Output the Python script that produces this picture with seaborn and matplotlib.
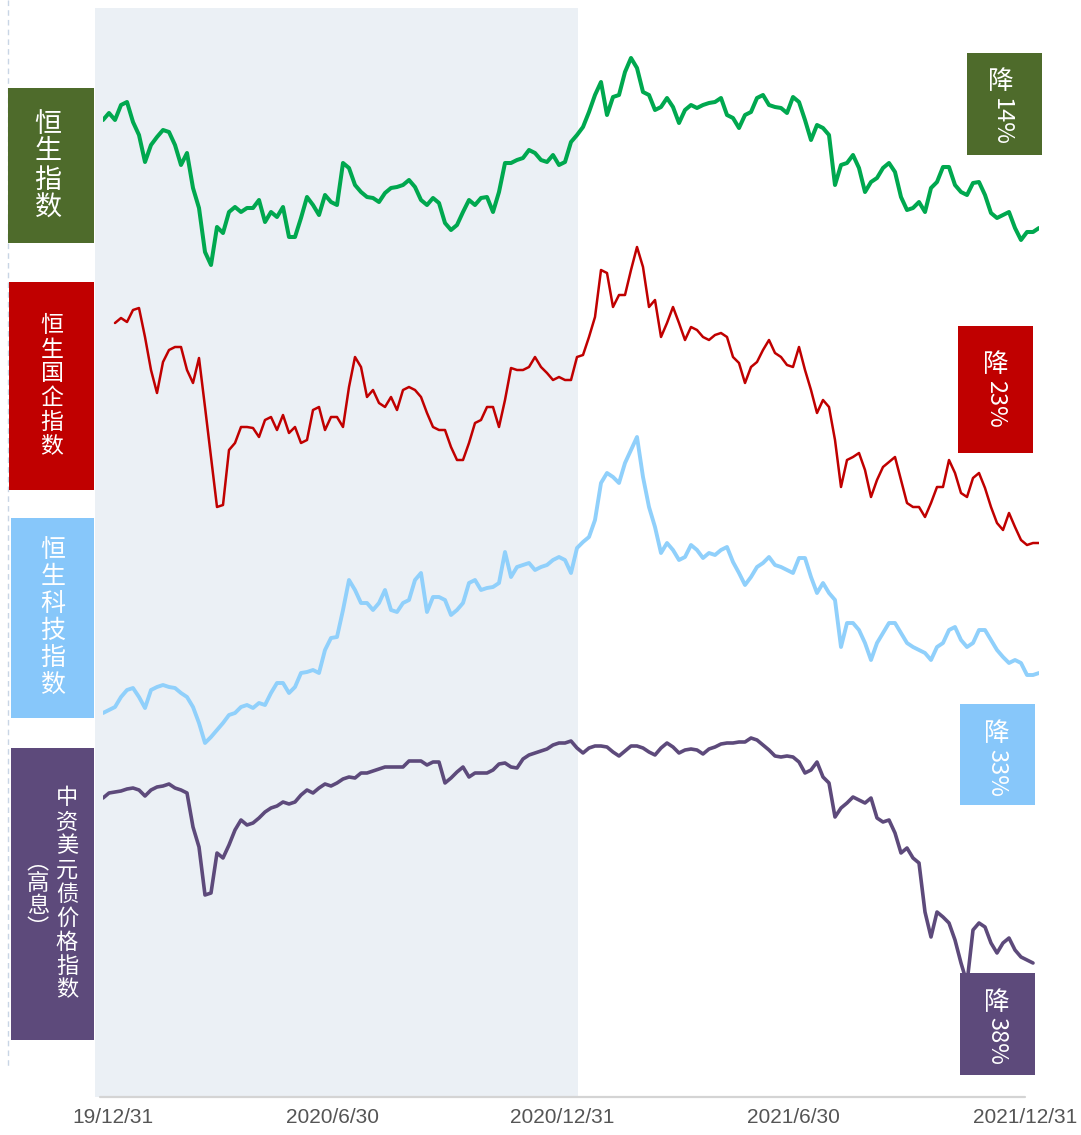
import numpy as np
import pandas as pd
import matplotlib.pyplot as plt
from matplotlib.patches import Rectangle
from matplotlib.lines import Line2D
from matplotlib.transforms import ScaledTranslation
import seaborn as sns

nan = np.nan

# ---- data (about every 4-5 days, 2019-12-31 .. 2021-12-31) ----
hsi = [28000, 28350, 28000, 28750, 28900, 27900, 27250, 25900, 26750, 27150,
       27500, 27400, 26750, 25750, 26350, 24600, 23600, 21400, 20750, 22650,
       22350, 23400, 23650, 23400, 23600, 23600, 24000, 22900, 23400, 23150,
       23650, 22150, 22150, 23100, 24150, 23750, 23250, 24250, 23900, 23750,
       25850, 25600, 24750, 24400, 24150, 24100, 23900, 24350, 24600, 24650,
       24750, 25000, 24650, 24000, 23750, 24100, 23850, 22850, 22500, 22750,
       23400, 24000, 23750, 24100, 24150, 23400, 24400, 25850, 25850, 26000,
       26100, 26500, 26350, 26000, 25900, 26250, 25750, 25900, 26900, 27250,
       27650, 28400, 29250, 29900, 28250, 29150, 29250, 30400, 31100, 30600,
       29400, 29250, 28500, 28650, 29100, 28650, 27850, 28500, 28750, 28600,
       28750, 28850, 28900, 29100, 28250, 28100, 27600, 28250, 28400, 29100,
       29250, 28750, 28650, 28600, 28350, 29150, 28900, 28000, 27000, 27750,
       27600, 27250, 24750, 25750, 25850, 26250, 25600, 24400, 24900, 25100,
       25600, 25850, 25400, 24150, 23500, 23600, 23900, 23400, 24600, 24900,
       25650, 25650, 24750, 24400, 24250, 24850, 24900, 24250, 23350, 23100,
       23250, 23400, 22600, 22000, 22400, 22400, 22600]

hscei = [nan, nan, 11155, 11230, 11170, 11350, 11380, 10945, 10450, 10105,
         10570, 10750, 10795, 10795, 10450, 10255, 10630, 9895, 9145, 8395,
         8425, 9250, 9355, 9595, 9595, 9580, 9445, 9700, 9745, 9550,
         9775, 9505, 9595, 9355, 9400, 9850, 9895, 9550, 9745, 9745,
         9595, 10195, 10645, 10495, 10045, 10150, 9955, 9895, 10045, 9850,
         10150, 10195, 10150, 10045, 9805, 9595, 9550, 9550, 9295, 9100,
         9100, 9355, 9655, 9700, 9895, 9895, 9595, 10000, 10480, 10450,
         10450, 10495, 10645, 10495, 10405, 10300, 10345, 10300, 10300, 10645,
         10675, 10945, 11245, 11950, 11905, 11395, 11575, 11575, 11950, 12295,
         11995, 11395, 11500, 10945, 11155, 11395, 11155, 10900, 11095, 11050,
         10945, 10900, 10975, 11005, 10945, 10645, 10555, 10255, 10495, 10570,
         10750, 10900, 10705, 10645, 10525, 10495, 10795, 10450, 10150, 9805,
         10000, 9895, 9400, 8695, 9100, 9145, 9205, 8950, 8545, 8800,
         8995, 9070, 9145, 8800, 8455, 8395, 8395, 8245, 8455, 8695,
         8695, 9100, 8905, 8605, 8545, 8830, 8905, 8680, 8395, 8155,
         8050, 8305, 8095, 7900, 7825, 7855, 7855]

hstech = [5740, 5800, 5860, 6060, 6200, 6240, 6060, 5840, 6200, 6260,
          6300, 6260, 6240, 6140, 6060, 5860, 5540, 5140, 5260, 5400,
          5540, 5700, 5740, 5860, 5900, 5840, 5940, 5900, 6140, 6340,
          6340, 6140, 6260, 6540, 6560, 6600, 6540, 7000, 7240, 7260,
          7800, 8400, 8200, 7940, 7940, 7800, 7940, 8200, 7800, 7760,
          7940, 8000, 8400, 8540, 7760, 8060, 8060, 8000, 7700, 7800,
          7940, 8340, 8400, 8200, 8240, 8260, 8340, 8960, 8460, 8660,
          8700, 8740, 8600, 8660, 8700, 8800, 8860, 8800, 8540, 9040,
          9160, 9260, 9600, 10340, 10540, 10460, 10340, 10740, 11000, 11260,
          10460, 9860, 9460, 8940, 9140, 9000, 8800, 8860, 9100, 9000,
          8840, 8940, 8900, 9000, 9060, 8760, 8540, 8300, 8460, 8660,
          8740, 8860, 8700, 8660, 8600, 8540, 8840, 8840, 8460, 8140,
          8340, 8140, 8000, 7060, 7540, 7540, 7400, 7140, 6800, 7140,
          7340, 7540, 7540, 7340, 7140, 7060, 7000, 6940, 6800, 7060,
          7140, 7400, 7460, 7200, 7060, 7140, 7400, 7400, 7200, 7000,
          6860, 6740, 6800, 6740, 6500, 6500, 6540]

bond = [90.4, 91.4, 91.6, 91.8, 92.2, 92.4, 92.0, 90.8, 92.0, 92.6,
        92.8, 93.2, 92.4, 92.0, 91.4, 84.6, 80.6, 71.0, 71.4, 79.4,
        78.4, 81.0, 84.0, 86.0, 85.0, 85.4, 86.4, 87.6, 88.4, 88.8,
        89.6, 89.2, 89.6, 91.0, 92.0, 91.4, 92.4, 93.2, 92.8, 93.4,
        94.2, 94.6, 94.4, 95.4, 95.4, 95.8, 96.2, 96.6, 96.6, 96.6,
        96.6, 97.8, 97.8, 97.8, 97.0, 97.6, 97.6, 93.4, 94.4, 95.6,
        96.6, 94.6, 95.4, 95.4, 95.4, 96.0, 97.2, 97.4, 96.6, 96.4,
        98.2, 99.0, 99.4, 99.8, 100.2, 101.0, 101.4, 101.4, 101.8, 100.4,
        99.4, 100.4, 100.8, 100.8, 100.6, 99.6, 98.8, 99.8, 100.8, 100.8,
        100.4, 99.6, 99.0, 100.4, 101.4, 100.6, 99.4, 100.0, 100.2, 100.0,
        99.2, 100.2, 100.6, 101.2, 101.4, 101.4, 101.6, 101.6, 102.4, 102.0,
        101.0, 100.0, 98.8, 98.6, 98.8, 98.6, 97.6, 95.4, 96.0, 97.6,
        94.6, 93.4, 86.6, 88.4, 89.4, 90.6, 90.0, 89.4, 90.4, 86.4,
        85.6, 86.0, 83.4, 79.4, 80.4, 78.4, 77.4, 67.6, 62.6, 67.6,
        66.6, 65.4, 62.0, 57.4, 53.4, 64.0, 65.4, 64.6, 61.4, 59.4,
        61.4, 62.4, 60.0, 58.6, 58.0, 57.4, nan]

assert len(hsi) == len(hscei) == len(hstech) == len(bond)
dates = pd.date_range("2019-12-31", "2021-12-31", periods=len(hsi))

left_labels = ["恒生指数", "恒生国企指数", "恒生科技指数", "中资美元债价格指数"]
bond_note = "︵高息︶"
drops = ["14%", "23%", "33%", "38%"]
tick_dates = ["2019-12-31", "2020-06-30", "2020-12-31", "2021-06-30", "2021-12-31"]
tick_labels = ["19/12/31", "2020/6/30", "2020/12/31", "2021/6/30", "2021/12/31"]
shade_end = "2021-01-05"

green, red, blue, purple = "#00a84f", "#c00000", "#90d0fb", "#5d4a7b"
box_colors = ["#4e6b2b", "#c00000", "#87c7fa", "#5d4a7b"]

# ---- figure ----
W, H = 1081, 1135
sns.set_theme(style="white")
plt.rcParams["font.family"] = ["Noto Sans CJK SC", "DejaVu Sans"]
fig = plt.figure(figsize=(W / 100, H / 100), dpi=100)


def fx(x):
    return x / W


def fy(y):
    return 1 - y / H


x0, x1 = 103, 1039
ppd = (x1 - x0) / (dates[-1] - dates[0]).days
left_ts = dates[0] - pd.Timedelta(days=(x0 - 95) / ppd)

# background: shaded 2020 + x axis
bg = fig.add_axes([fx(95), fy(1097), fx(x1) - fx(95), (1097 - 8) / H])
bg.axvspan(left_ts, pd.Timestamp(shade_end), color="#ebf0f5", lw=0)
bg.set_xlim(left_ts, dates[-1])
bg.set_ylim(0, 1)
bg.axhline(0, xmin=5 / 944, xmax=930 / 944, color="#d4d4d4", lw=1.6, clip_on=False)
for s in bg.spines.values():
    s.set_visible(False)
bg.set_yticks([])
bg.set_xticks([pd.Timestamp(d) for d in tick_dates])
bg.set_xticklabels(tick_labels)
bg.tick_params(axis="x", length=0, pad=8)
offsets = [10, -4, -9, -10, -14]
for lab, dx in zip(bg.get_xticklabels(), offsets):
    lab.set_family(["Liberation Sans", "DejaVu Sans"])
    lab.set_fontsize(15)
    lab.set_color("#555555")
    lab.set_transform(lab.get_transform() + ScaledTranslation(dx / 100, 0, fig.dpi_scale_trans))

# series, each on its own transparent axes (top px, bottom px, y range)
panels = [
    (hsi, green, 2.9, 40, 280, 20000, 32000),
    (hscei, red, 1.8, 240, 560, 7600, 12400),
    (hstech, blue, 2.8, 420, 760, 4800, 11600),
    (bond, purple, 2.6, 720, 1000, 50, 106),
]
for vals, col, lw, top, bot, lo, hi in panels:
    ax = fig.add_axes([fx(x0), fy(bot), (x1 - x0) / W, (bot - top) / H])
    ax.patch.set_alpha(0)
    df = pd.DataFrame({"date": dates, "v": vals}).dropna()
    sns.lineplot(data=df, x="date", y="v", ax=ax, color=col, lw=lw, errorbar=None)
    ax.set_xlim(dates[0], dates[-1])
    ax.set_ylim(lo, hi)
    ax.axis("off")

# dashed guide on the far left
fig.add_artist(Line2D([fx(8), fx(8)], [fy(0), fy(1068)], transform=fig.transFigure,
                      color="#c8d5e5", lw=1, ls=(0, (4, 3))))


def box(x_a, y_a, x_b, y_b, color):
    fig.add_artist(Rectangle((fx(x_a), fy(y_b)), fx(x_b) - fx(x_a), (y_b - y_a) / H,
                             transform=fig.transFigure, color=color, lw=0, zorder=5))


def vtext(chars, xc, y_first, pitch, size):
    for k, ch in enumerate(chars):
        fig.text(fx(xc), fy(y_first + k * pitch), ch, color="white", fontsize=size,
                 ha="center", va="center", zorder=6)


# left labels
box(8, 88, 94, 243, box_colors[0])
vtext(left_labels[0], 48, 124, 28, 19.5)
box(9, 282, 94, 490, box_colors[1])
vtext(left_labels[1], 52, 326, 24, 16.5)
box(11, 518, 94, 718, box_colors[2])
vtext(left_labels[2], 53, 550, 27, 18)
box(11, 748, 94, 1040, box_colors[3])
vtext(left_labels[3], 67, 798, 24, 16)
vtext(bond_note, 38, 862, 22, 16)

# right "降x%" tags
tags = [(967, 53, 1042, 155, 1001, 82, 122),
        (958, 326, 1033, 453, 996, 365, 404),
        (960, 704, 1035, 805, 997, 734, 773),
        (960, 973, 1035, 1075, 997, 1003, 1041)]
for (xa, ya, xb, yb, xc, y_char, y_num), col, pct in zip(tags, box_colors, drops):
    box(xa, ya, xb, yb, col)
    fig.text(fx(xc), fy(y_char), "降", color="white", fontsize=18.5,
             ha="center", va="center", zorder=6)
    fig.text(fx(xc), fy(y_num), pct, color="white", fontsize=17, rotation=-90,
             rotation_mode="anchor", ha="center", va="center", zorder=6)

fig.savefig("out.png", dpi=100)
